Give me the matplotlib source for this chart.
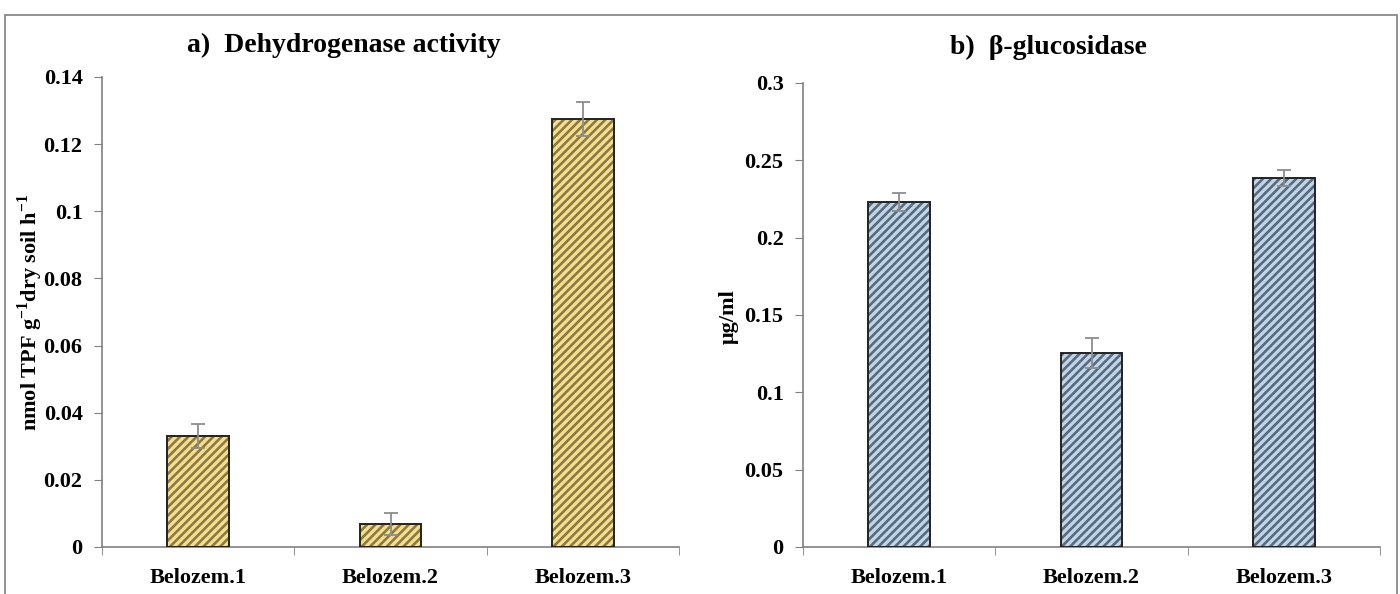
import matplotlib.pyplot as plt
from matplotlib.patches import Rectangle
from matplotlib.ticker import FuncFormatter, MultipleLocator

plt.rcParams['font.family'] = ['Liberation Serif', 'DejaVu Serif']
plt.rcParams['font.weight'] = 'bold'
plt.rcParams['mathtext.fontset'] = 'custom'
plt.rcParams['mathtext.rm'] = 'Liberation Serif:bold'
plt.rcParams['mathtext.bf'] = 'Liberation Serif:bold'
plt.rcParams['hatch.linewidth'] = 1.9

# data
sites = ['Belozem.1', 'Belozem.2', 'Belozem.3']
dehydrogenase = [0.0331, 0.0068, 0.1275]
dehydrogenase_err = [0.0035, 0.0033, 0.0051]
glucosidase = [0.2231, 0.1254, 0.2386]
glucosidase_err = [0.0058, 0.0097, 0.0051]

W, H = 1400, 594
fig = plt.figure(figsize=(W / 100, H / 100), dpi=100)

# outer frame round the whole figure (bottom edge is cut off)
frame = Rectangle((5 / W, -0.05), (1397 - 5) / W, 1.05 - 15 / H,
                  transform=fig.transFigure, fill=False, edgecolor='#808080',
                  linewidth=1.2, clip_on=False)
fig.patches.append(frame)


def fmt(v, pos):
    return '{:g}'.format(round(v, 4))


def panel(rect, vals, errs, ymax, ystep, fill, hatch_col, title, title_x, title_y):
    ax = fig.add_axes(rect)
    x = range(len(sites))
    # hatched fill first, then the black outline on top
    ax.bar(x, vals, width=0.32, color=fill, edgecolor=hatch_col, hatch='////',
           linewidth=0, zorder=2)
    ax.bar(x, vals, width=0.32, fill=False, edgecolor='#222222', linewidth=1.4,
           zorder=3)
    ax.errorbar(x, vals, yerr=errs, fmt='none', ecolor='#8c8c8c', elinewidth=1.3,
                capsize=5, capthick=1.3, zorder=4)
    ax.set_xlim(-0.5, 2.5)
    ax.set_ylim(0, ymax)
    ax.yaxis.set_major_locator(MultipleLocator(ystep))
    ax.yaxis.set_major_formatter(FuncFormatter(fmt))
    ax.set_xticks(list(x))
    ax.set_xticklabels(sites, fontsize=16, fontweight='bold')
    ax.set_xticks([-0.5, 0.5, 1.5, 2.5], minor=True)
    ax.tick_params(axis='x', which='major', length=0, pad=15)
    ax.tick_params(axis='x', which='minor', length=6, color='#808080', direction='out')
    ax.tick_params(axis='y', length=6, color='#808080', labelsize=16, pad=8)
    for lab in ax.get_yticklabels():
        lab.set_fontweight('bold')
    for s in ['top', 'right']:
        ax.spines[s].set_visible(False)
    for s in ['left', 'bottom']:
        ax.spines[s].set_color('#808080')
        ax.spines[s].set_linewidth(1.2)
    fig.text(title_x / W, 1 - title_y / H, title, ha='center', va='center',
             fontsize=20, fontweight='bold')
    return ax


panel([102 / W, 1 - 547 / H, 577 / W, 470 / H], dehydrogenase, dehydrogenase_err,
      0.14, 0.02, '#f7df8a', '#8a7a4a', 'a)  Dehydrogenase activity', 344, 45)
panel([803 / W, 1 - 547 / H, 577 / W, 464 / H], glucosidase, glucosidase_err,
      0.3, 0.05, '#bdd7ee', '#5d6b78', 'b)  \u03b2-glucosidase', 1048, 47)

fig.text(30 / W, 1 - 312 / H, r'nmol TPF g$^{-1}$dry soil h$^{-1}$', rotation=90,
         ha='center', va='center', fontsize=16, fontweight='bold')
fig.text(729 / W, 1 - 317 / H, '\u03bcg/ml', rotation=90,
         ha='center', va='center', fontsize=16, fontweight='bold')

fig.savefig('out.png', dpi=100)
